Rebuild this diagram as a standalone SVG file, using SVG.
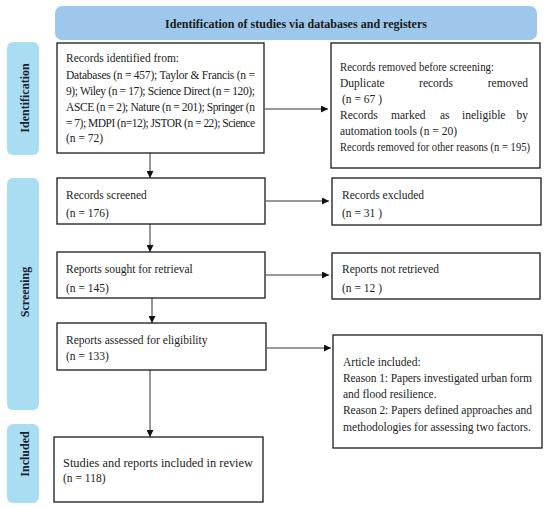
<svg xmlns="http://www.w3.org/2000/svg" width="550" height="509" viewBox="0 0 550 509">
<defs>
<style>
.t{font-family:"Liberation Serif","Times New Roman",serif;font-size:11.5px;fill:#222}
.h{font-family:"Liberation Serif","Times New Roman",serif;font-size:12.5px;font-weight:bold;fill:#1a1a1a}
.s{font-family:"Liberation Serif","Times New Roman",serif;font-size:12px;font-weight:bold;fill:#1a2030}
.e{text-anchor:end}
.box{fill:#fff;stroke:#1a1a1a;stroke-width:1.3}
.side{fill:#a8ddf2}
.con{stroke:#333;stroke-width:1;fill:none;marker-end:url(#ah)}
</style>
<marker id="ah" viewBox="0 0 10 10" refX="10" refY="5" markerWidth="7" markerHeight="7" markerUnits="userSpaceOnUse" orient="auto">
<path d="M0,0 L10,5 L0,10 Z" fill="#111"/>
</marker>
</defs>
<rect width="550" height="509" fill="#fff"/>
<g id="header">
<rect x="55" y="6" width="482" height="34" rx="7" fill="#9dc8eb"/>
<text class="h" x="296" y="28" text-anchor="middle" textLength="262" lengthAdjust="spacingAndGlyphs">Identification of studies via databases and registers</text>
</g>
<g id="phase-identification">
<rect class="side" x="7" y="42" width="32" height="113" rx="6"/>
<text class="s" transform="translate(29,98) rotate(-90)" text-anchor="middle">Identification</text>
</g>
<g id="phase-screening">
<rect class="side" x="7" y="178" width="32" height="232" rx="6"/>
<text class="s" transform="translate(29,292) rotate(-90)" text-anchor="middle">Screening</text>
</g>
<g id="phase-included">
<rect class="side" x="7" y="424" width="32" height="79" rx="6"/>
<text class="s" transform="translate(29,454) rotate(-90)" text-anchor="middle">Included</text>
</g>
<g id="connectors">
<line class="con" x1="265" y1="109" x2="328" y2="109"/>
<line class="con" x1="150" y1="153" x2="150" y2="178"/>
<line class="con" x1="266" y1="201" x2="329" y2="201"/>
<line class="con" x1="150" y1="224" x2="150" y2="252"/>
<line class="con" x1="266" y1="275" x2="329" y2="275"/>
<line class="con" x1="152" y1="298" x2="152" y2="323"/>
<line class="con" x1="267" y1="348" x2="331" y2="348"/>
<line class="con" x1="150" y1="370" x2="150" y2="437"/>
</g>
<g id="records-identified">
<rect class="box" x="57" y="43" width="207" height="110"/>
<text class="t" x="66" y="62">Records identified from:</text>
<text class="t" x="66" y="79" textLength="189" lengthAdjust="spacing">Databases (n = 457); Taylor &amp; Francis (n =</text>
<text class="t" x="66" y="95" textLength="189" lengthAdjust="spacing">9); Wiley (n = 17); Science Direct (n = 120);</text>
<text class="t" x="66" y="111" textLength="189" lengthAdjust="spacing">ASCE (n = 2); Nature (n = 201); Springer (n</text>
<text class="t" x="66" y="127" textLength="189" lengthAdjust="spacing">= 7); MDPI (n=12); JSTOR (n = 22); Science</text>
<text class="t" x="66" y="142">(n = 72)</text>
</g>
<g id="records-removed">
<rect class="box" x="331" y="43" width="209" height="125"/>
<text class="t" x="340" y="71" textLength="154" lengthAdjust="spacingAndGlyphs">Records removed before screening:</text>
<text class="t" x="340" y="87">Duplicate</text>
<text class="t" x="436" y="87" text-anchor="middle">records</text>
<text class="t e" x="528" y="87">removed</text>
<text class="t" x="342" y="103">(n = 67 )</text>
<text class="t" x="340" y="119">Records</text>
<text class="t" x="391" y="119">marked</text>
<text class="t" x="440" y="119">as</text>
<text class="t" x="462" y="119">ineligible</text>
<text class="t e" x="528" y="119">by</text>
<text class="t" x="340" y="135">automation tools (n = 20)</text>
<text class="t" x="340" y="151" textLength="190" lengthAdjust="spacingAndGlyphs">Records removed for other reasons (n = 195)</text>
</g>
<g id="records-screened">
<rect class="box" x="57" y="178" width="208" height="46"/>
<text class="t" x="66" y="199">Records screened</text>
<text class="t" x="66" y="217">(n = 176)</text>
</g>
<g id="records-excluded">
<rect class="box" x="332" y="178" width="209" height="47"/>
<text class="t" x="342" y="199">Records excluded</text>
<text class="t" x="342" y="217">(n = 31 )</text>
</g>
<g id="reports-sought">
<rect class="box" x="57" y="252" width="208" height="46"/>
<text class="t" x="66" y="273">Reports sought for retrieval</text>
<text class="t" x="66" y="292">(n = 145)</text>
</g>
<g id="reports-not-retrieved">
<rect class="box" x="332" y="253" width="208" height="46"/>
<text class="t" x="342" y="273">Reports not retrieved</text>
<text class="t" x="342" y="292">(n = 12 )</text>
</g>
<g id="reports-assessed">
<rect class="box" x="57" y="323" width="209" height="47"/>
<text class="t" x="66" y="344">Reports assessed for eligibility</text>
<text class="t" x="66" y="360">(n = 133)</text>
</g>
<g id="article-included">
<rect class="box" x="333" y="335" width="209" height="113"/>
<text class="t" x="343" y="366">Article included:</text>
<text class="t" x="343" y="382" textLength="189" lengthAdjust="spacing">Reason 1: Papers investigated urban form</text>
<text class="t" x="343" y="398">and flood resilience.</text>
<text class="t" x="343" y="414" textLength="189" lengthAdjust="spacing">Reason 2: Papers defined approaches and</text>
<text class="t" x="343" y="431" textLength="188" lengthAdjust="spacingAndGlyphs">methodologies for assessing two factors.</text>
</g>
<g id="studies-included">
<rect class="box" x="54" y="437" width="209" height="65"/>
<text class="t" x="63" y="467" textLength="190" lengthAdjust="spacingAndGlyphs">Studies and reports included in review</text>
<text class="t" x="63" y="482">(n = 118)</text>
</g>
</svg>
